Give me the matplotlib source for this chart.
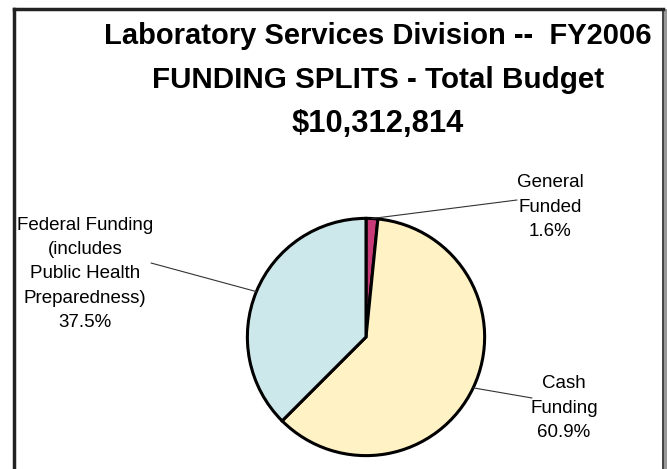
import numpy as np
import matplotlib
matplotlib.use('Agg')
import matplotlib.pyplot as plt
from matplotlib.patches import Rectangle

labels = ['General\nFunded', 'Cash\nFunding', 'Federal Funding\n(includes\nPublic Health\nPreparedness)']
shares = [1.6, 60.9, 37.5]
colors = ['#C93A78', '#FFF2C5', '#CDE8EB']
title_lines = ['Laboratory Services Division --  FY2006',
               'FUNDING SPLITS - Total Budget',
               '$10,312,814']
title_sizes = [21.0, 21.3, 22.2]

W, H = 667, 469
fig = plt.figure(figsize=(W / 100, H / 100), dpi=100)
fig.patch.set_facecolor('white')

narrow = ['Liberation Sans Narrow', 'Liberation Sans', 'DejaVu Sans']

# frame (open at bottom)
fig.add_artist(plt.Line2D([14 / W, 14 / W], [0, 1 - 9 / H], color='#222222', lw=2.5))
fig.add_artist(plt.Line2D([14 / W, 663 / W], [1 - 9 / H, 1 - 9 / H], color='#222222', lw=2.5))
fig.add_artist(plt.Line2D([663 / W, 663 / W], [0, 1 - 9 / H], color='#222222', lw=1.2))
fig.add_artist(Rectangle((664 / W, 0), 3 / W, 1 - 9 / H, transform=fig.transFigure,
                         color='#999999', lw=0))

# title
baselines = [44, 88, 132]
for line, fs, yb in zip(title_lines, title_sizes, baselines):
    fig.text(378 / W, 1 - yb / H, line, ha='center', va='baseline',
             fontsize=fs, fontweight='bold', family=narrow)

# pie
cx, cy, r = 366, 337, 121
ax = fig.add_axes([(cx - r) / W, (H - cy - r) / H, 2 * r / W, 2 * r / H])
wedges, _ = ax.pie(shares, colors=colors, startangle=90, counterclock=False,
                   wedgeprops=dict(edgecolor='black', linewidth=2.2))
ax.set_xlim(-1.02, 1.02)
ax.set_ylim(-1.02, 1.02)
ax.set_aspect('equal')
ax.axis('off')

# labels and leader lines
text_pos = [(550, 207), (564, 408), (85, 274)]
line_end = [(517, 200), (532, 398), (151, 263)]
for w, lab, s, tp, le in zip(wedges, labels, shares, text_pos, line_end):
    mid = np.deg2rad((w.theta1 + w.theta2) / 2)
    ax.annotate('', xy=(np.cos(mid), np.sin(mid)), xycoords='data',
                xytext=(le[0], H - le[1]), textcoords='figure pixels',
                arrowprops=dict(arrowstyle='-', color='#333333', lw=0.8,
                                shrinkA=0, shrinkB=0))
    fig.text(tp[0] / W, 1 - tp[1] / H, '%s\n%.1f%%' % (lab, s), ha='center', va='center',
             fontsize=13.5, family=narrow, linespacing=1.55)

fig.savefig('out.png', dpi=100)
